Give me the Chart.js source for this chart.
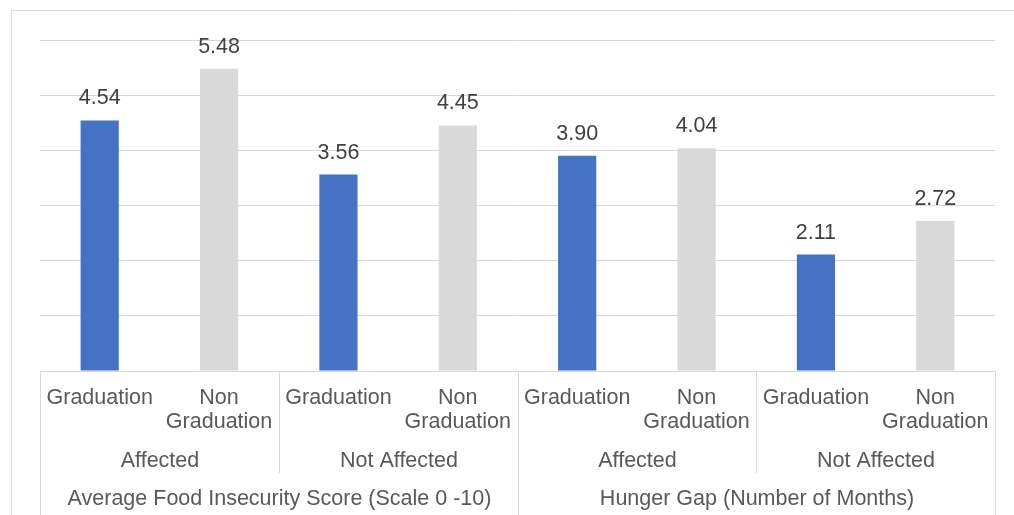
<!DOCTYPE html>
<html>
<head>
<meta charset="utf-8">
<script src="https://cdn.jsdelivr.net/npm/chart.js@4.4.1/dist/chart.umd.min.js"></script>
<style>
  html, body { margin: 0; padding: 0; background: #ffffff; }
  #wrap { position: relative; width: 1014px; height: 515px; }
</style>
</head>
<body>
<div id="wrap"><canvas id="chart" width="1014" height="515"></canvas></div>
<script>
// Bars, left to right
const programme = ["Graduation", "Non Graduation", "Graduation", "Non Graduation",
                   "Graduation", "Non Graduation", "Graduation", "Non Graduation"];
const shockStatus = ["Affected", "Not Affected", "Affected", "Not Affected"];
const indicators = ["Average Food Insecurity Score (Scale 0 -10)", "Hunger Gap (Number of Months)"];
const values = [4.54, 5.48, 3.56, 4.45, 3.90, 4.04, 2.11, 2.72];
const yTicks = [0, 1, 2, 3, 4, 5, 6];

const seriesColors = { "Graduation": "#4472C4", "Non Graduation": "#D9D9D9" };
const LINE = "#D9D9D9";
const TEXT = "#595959";
const FONT = "21.5px 'Liberation Sans', Arial, sans-serif";

function hline(ctx, x1, x2, y) {
  ctx.beginPath(); ctx.moveTo(x1, y); ctx.lineTo(x2, y); ctx.stroke();
}
function vline(ctx, x, y1, y2) {
  ctx.beginPath(); ctx.moveTo(x, y1); ctx.lineTo(x, y2); ctx.stroke();
}

// Outer frame of the chart object
const framePlugin = {
  id: "frame",
  beforeDraw(chart) {
    const ctx = chart.ctx;
    ctx.save();
    ctx.fillStyle = "#ffffff";
    ctx.fillRect(0, 0, chart.width, chart.height);
    ctx.strokeStyle = LINE;
    ctx.lineWidth = 1;
    hline(ctx, 11, chart.width, 10.5);
    vline(ctx, 11.5, 10, chart.height);
    ctx.restore();
  }
};

// Value labels above each bar
const valueLabels = {
  id: "valueLabels",
  afterDatasetsDraw(chart) {
    const ctx = chart.ctx;
    const meta = chart.getDatasetMeta(0);
    ctx.save();
    ctx.font = FONT;
    ctx.fillStyle = "#404040";
    ctx.textAlign = "center";
    ctx.textBaseline = "middle";
    meta.data.forEach((bar, i) => {
      ctx.fillText(values[i].toFixed(2), bar.x, bar.y - 22);
    });
    ctx.restore();
  }
};

// Three-level category axis under the plot
const groupedAxis = {
  id: "groupedAxis",
  afterDraw(chart) {
    const ctx = chart.ctx;
    const area = chart.chartArea;
    const n = programme.length;
    const step = (area.right - area.left) / n;
    const top = area.bottom;
    const bottom = chart.height;
    const row2Bottom = top + 102;
    const edge = i => Math.round(area.left + i * step) + 0.5;

    ctx.save();
    ctx.strokeStyle = LINE;
    ctx.lineWidth = 1;
    hline(ctx, area.left, area.right, top + 0.5);
    // outer and indicator borders run to the bottom
    for (let i = 0; i <= n; i += 4) vline(ctx, edge(i), top, bottom);
    // shock-status borders stop under the second row
    for (let i = 2; i < n; i += 4) vline(ctx, edge(i), top, row2Bottom);

    ctx.font = FONT;
    ctx.fillStyle = TEXT;
    ctx.textAlign = "center";
    ctx.textBaseline = "middle";
    const scale = chart.scales.x;
    programme.forEach((label, i) => {
      const cx = scale.getPixelForValue(i);
      const lines = label.split(" ");
      lines.forEach((ln, k) => ctx.fillText(ln, cx, top + 27 + k * 24));
    });
    shockStatus.forEach((label, g) => {
      const cx = (edge(g * 2) + edge(g * 2 + 2)) / 2;
      ctx.fillText(label, cx, top + 90);
    });
    indicators.forEach((label, g) => {
      const cx = (edge(g * 4) + edge(g * 4 + 4)) / 2;
      ctx.fillText(label, cx, top + 128);
    });
    ctx.restore();
  }
};

new Chart(document.getElementById("chart"), {
  type: "bar",
  data: {
    labels: programme.map((p, i) => i),
    datasets: [{
      data: values,
      backgroundColor: programme.map(p => seriesColors[p]),
      borderWidth: 0,
      categoryPercentage: 1,
      barPercentage: 0.32
    }]
  },
  options: {
    responsive: false,
    animation: false,
    events: [],
    layout: { padding: { left: 40, right: 19, top: 40, bottom: 144 } },
    plugins: { legend: { display: false }, tooltip: { enabled: false }, title: { display: false } },
    scales: {
      x: {
        display: true,
        grid: { display: false, drawTicks: false },
        border: { display: false },
        ticks: { display: false }
      },
      y: {
        min: yTicks[0],
        max: yTicks[yTicks.length - 1],
        afterBuildTicks: axis => { axis.ticks = yTicks.map(v => ({ value: v })); },
        grid: { color: LINE, lineWidth: 1, drawTicks: false },
        border: { display: false },
        ticks: { display: false }
      }
    }
  },
  plugins: [framePlugin, valueLabels, groupedAxis]
});
</script>
</body>
</html>
